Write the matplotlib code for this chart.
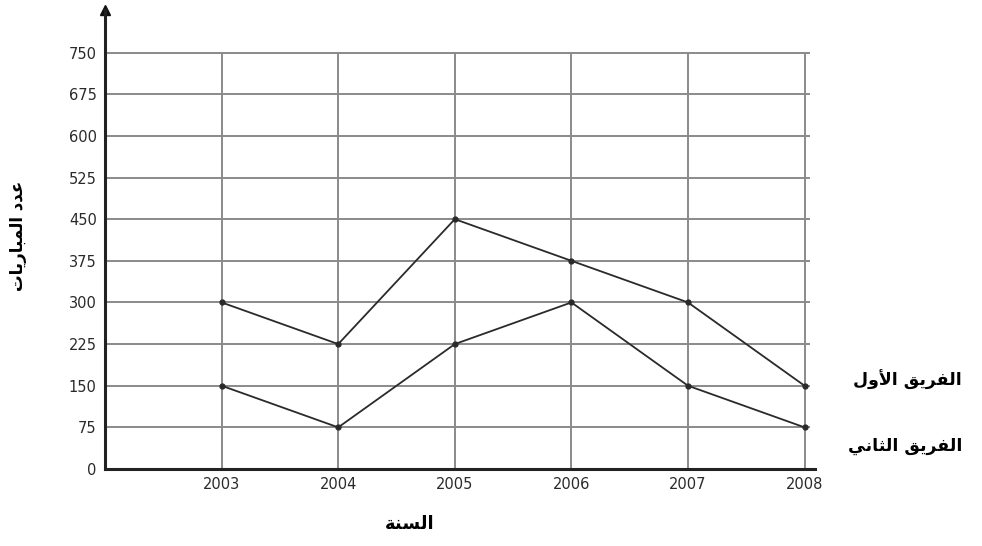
import matplotlib
matplotlib.use("Agg")
from matplotlib import pyplot as plt

# data
years = [2003, 2004, 2005, 2006, 2007, 2008]
team_1 = [300, 225, 450, 375, 300, 150]
team_2 = [150, 75, 225, 300, 150, 75]
y_ticks = [0, 75, 150, 225, 300, 375, 450, 525, 600, 675, 750]
y_label = "عدد المباريات"
x_label = "السنة"
label_1 = "الفريق الأول"
label_2 = "الفريق الثاني"

# minimal arabic shaping (matplotlib has no complex text layout)
FORMS = {
    'ا': ('\uFE8D', '\uFE8E', None, None), 'أ': ('\uFE83', '\uFE84', None, None),
    'د': ('\uFEA9', '\uFEAA', None, None), 'ر': ('\uFEAD', '\uFEAE', None, None),
    'و': ('\uFEED', '\uFEEE', None, None), 'ة': ('\uFE93', '\uFE94', None, None),
    'ب': ('\uFE8F', '\uFE90', '\uFE91', '\uFE92'), 'ت': ('\uFE95', '\uFE96', '\uFE97', '\uFE98'),
    'ث': ('\uFE99', '\uFE9A', '\uFE9B', '\uFE9C'), 'س': ('\uFEB1', '\uFEB2', '\uFEB3', '\uFEB4'),
    'ع': ('\uFEC9', '\uFECA', '\uFECB', '\uFECC'), 'ف': ('\uFED1', '\uFED2', '\uFED3', '\uFED4'),
    'ق': ('\uFED5', '\uFED6', '\uFED7', '\uFED8'), 'ل': ('\uFEDD', '\uFEDE', '\uFEDF', '\uFEE0'),
    'م': ('\uFEE1', '\uFEE2', '\uFEE3', '\uFEE4'), 'ن': ('\uFEE5', '\uFEE6', '\uFEE7', '\uFEE8'),
    'ي': ('\uFEF1', '\uFEF2', '\uFEF3', '\uFEF4'),
}
LAM_ALEF = {'ا': ('\uFEFB', '\uFEFC'), 'أ': ('\uFEF7', '\uFEF8')}


def dual(c):
    return c in FORMS and FORMS[c][2] is not None


def shape(s):
    out = []
    i = 0
    while i < len(s):
        c = s[i]
        prev = s[i - 1] if i > 0 else ' '
        if c not in FORMS:
            out.append(c)
            i += 1
            continue
        jp = dual(prev)
        if c == 'ل' and i + 1 < len(s) and s[i + 1] in LAM_ALEF:
            out.append(LAM_ALEF[s[i + 1]][1 if jp else 0])
            i += 2
            continue
        nxt = s[i + 1] if i + 1 < len(s) else ' '
        jn = dual(c) and nxt in FORMS
        iso, fin, ini, med = FORMS[c]
        if jp and jn:
            out.append(med)
        elif jp:
            out.append(fin)
        elif jn:
            out.append(ini)
        else:
            out.append(iso)
        i += 1
    return ''.join(out)[::-1]


plt.rcParams['font.family'] = ['DejaVu Sans']

fig = plt.figure(figsize=(9.82, 5.46), dpi=100)
ax = fig.add_axes([0.107, 0.141, 0.723, 0.841])

ax.set_xlim(2002.0, 2008.09)
ax.set_ylim(0, 827)

# grid
ax.hlines(y_ticks[1:], 2002.0, 2008.05, color='#8a8a8a', linewidth=1.4, zorder=1)
ax.vlines(years, 0, 750, color='#8a8a8a', linewidth=1.4, zorder=1)

# lines
ax.plot(years, team_1, color='#2a2a2a', linewidth=1.3, marker='o', markersize=3.5, zorder=3)
ax.plot(years, team_2, color='#2a2a2a', linewidth=1.3, marker='o', markersize=3.5, zorder=3)

for s in ['top', 'right']:
    ax.spines[s].set_visible(False)
for s in ['left', 'bottom']:
    ax.spines[s].set_linewidth(2.2)
    ax.spines[s].set_color('#222222')
ax.plot(0, 1, marker='^', color='#111111', markersize=7, transform=ax.transAxes, clip_on=False)

ax.set_xticks(years)
ax.set_xticklabels([str(y) for y in years], fontsize=10.5, color='#2a2a2a')
ax.set_yticks(y_ticks)
ax.set_yticklabels([str(v) for v in y_ticks], fontsize=10.5, color='#2a2a2a')
ax.tick_params(axis='y', length=0, pad=6)
ax.tick_params(axis='x', length=0, pad=6)

# arabic labels
fig.text(18 / 982, 1 - 236 / 546, shape(y_label), rotation=90, ha='center', va='center',
         fontsize=12, fontweight='bold')
fig.text(410 / 982, 1 - 524 / 546, shape(x_label), ha='center', va='center',
         fontsize=13, fontweight='bold')
fig.text(907 / 982, 1 - 380 / 546, shape(label_1), ha='center', va='center',
         fontsize=12.5, fontweight='bold')
fig.text(905 / 982, 1 - 446 / 546, shape(label_2), ha='center', va='center',
         fontsize=12.5, fontweight='bold')

fig.savefig("out.png", dpi=100)
